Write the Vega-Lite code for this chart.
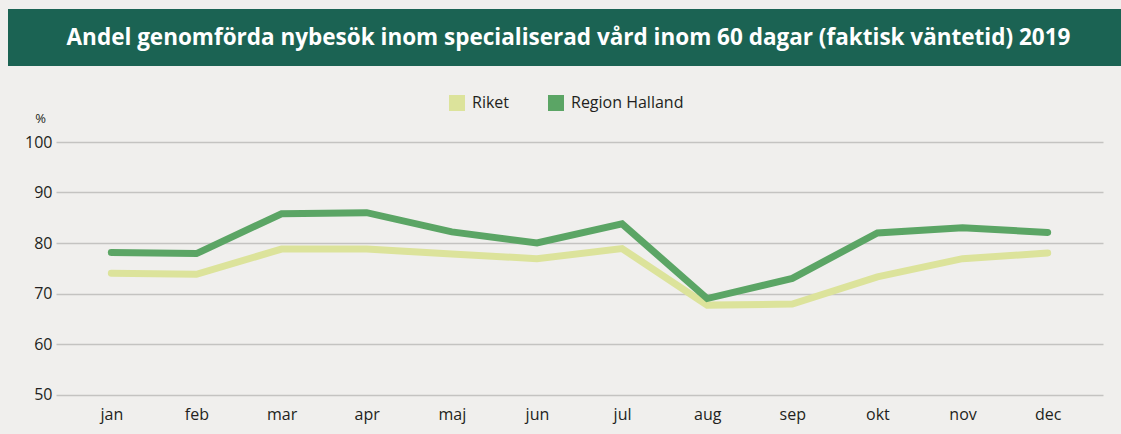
{
  "$schema": "https://vega.github.io/schema/vega-lite/v6.json",
  "background": "#f0efed",
  "padding": {"left": 8, "top": 9, "right": 0, "bottom": 14},
  "config": {"view": {"stroke": null}, "font": "Open Sans"},
  "spacing": 46,
  "bounds": "full",
  "vconcat": [
    {
      "width": 1113,
      "height": 57,
      "view": {"fill": "#1b6353", "stroke": null},
      "data": {"values": [{"t": "Andel genomförda nybesök inom specialiserad vård inom 60 dagar (faktisk väntetid) 2019"}]},
      "mark": {"type": "text", "color": "#ffffff", "fontSize": 22.5, "fontWeight": "bold", "font": "Open Sans", "dx": 4, "baseline": "middle", "align": "center"},
      "encoding": {"text": {"field": "t", "type": "nominal"}}
    },
    {
      "spacing": 0,
      "bounds": "full",
      "hconcat": [
        {
          "width": 16,
          "height": 1,
          "data": {"values": []},
          "mark": "point",
          "encoding": {}
        },
        {
          "width": 1047,
          "height": 252.5,
          "data": {"values": [
            {"month": "jan", "series": "Riket", "value": 74},
            {"month": "feb", "series": "Riket", "value": 73.8},
            {"month": "mar", "series": "Riket", "value": 78.8},
            {"month": "apr", "series": "Riket", "value": 78.8},
            {"month": "maj", "series": "Riket", "value": 77.8},
            {"month": "jun", "series": "Riket", "value": 76.9},
            {"month": "jul", "series": "Riket", "value": 78.9},
            {"month": "aug", "series": "Riket", "value": 67.7},
            {"month": "sep", "series": "Riket", "value": 67.9},
            {"month": "okt", "series": "Riket", "value": 73.3},
            {"month": "nov", "series": "Riket", "value": 76.9},
            {"month": "dec", "series": "Riket", "value": 78},
            {"month": "jan", "series": "Region Halland", "value": 78.1},
            {"month": "feb", "series": "Region Halland", "value": 77.9},
            {"month": "mar", "series": "Region Halland", "value": 85.8},
            {"month": "apr", "series": "Region Halland", "value": 86},
            {"month": "maj", "series": "Region Halland", "value": 82.2},
            {"month": "jun", "series": "Region Halland", "value": 80},
            {"month": "jul", "series": "Region Halland", "value": 83.8},
            {"month": "aug", "series": "Region Halland", "value": 69},
            {"month": "sep", "series": "Region Halland", "value": 73},
            {"month": "okt", "series": "Region Halland", "value": 82},
            {"month": "nov", "series": "Region Halland", "value": 83},
            {"month": "dec", "series": "Region Halland", "value": 82.1}
          ]},
          "mark": {"type": "line", "strokeWidth": 7, "strokeCap": "round", "strokeJoin": "miter"},
          "encoding": {
            "x": {
              "field": "month", "type": "ordinal", "sort": null,
              "scale": {"type": "point", "padding": 0.65},
              "axis": {"title": null, "labelAngle": 0, "domain": false, "ticks": false, "grid": false, "labelPadding": 12, "labelFontSize": 16, "labelFontWeight": 500, "labelColor": "#231f20", "labelFont": "Open Sans"}
            },
            "y": {
              "field": "value", "type": "quantitative",
              "scale": {"domain": [50, 100], "nice": false, "zero": false},
              "axis": {
                "title": "%", "titleAngle": 0, "titleX": -16, "titleY": -24, "titleAlign": "center", "titleBaseline": "middle",
                "titleFontSize": 13, "titleFontWeight": 500, "titleColor": "#231f20", "titleFont": "Open Sans",
                "values": [50, 60, 70, 80, 90, 100], "ticks": false, "domain": false, "labelPadding": 4,
                "labelFontSize": 16, "labelFontWeight": 500, "labelColor": "#231f20", "labelFont": "Open Sans",
                "gridColor": "#c4c3c1", "gridWidth": 1.5
              }
            },
            "color": {
              "field": "series", "type": "nominal",
              "scale": {"domain": ["Riket", "Region Halland"], "range": ["#dce39b", "#5ba565"]},
              "legend": {
                "orient": "none", "legendX": 441, "legendY": 86, "direction": "horizontal", "title": null,
                "symbolType": "square", "symbolSize": 64, "symbolStrokeWidth": 8, "symbolOpacity": 1,
                "labelFontSize": 16, "labelFontWeight": 500, "labelColor": "#231f20", "labelFont": "Open Sans",
                "columnPadding": 26, "labelOffset": 7, "padding": 0
              }
            }
          }
        }
      ]
    }
  ]
}
